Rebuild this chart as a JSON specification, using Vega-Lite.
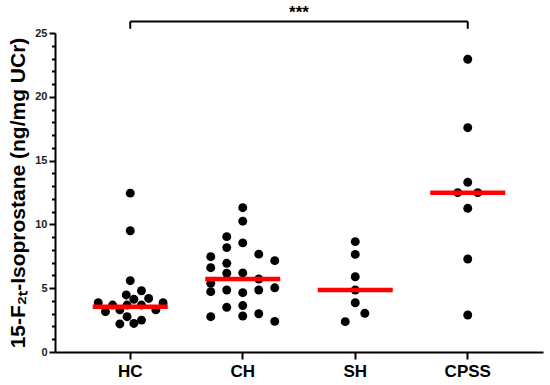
{
  "$schema": "https://vega.github.io/schema/vega-lite/v6.json",
  "width": 488,
  "height": 319,
  "autosize": {"type": "none"},
  "padding": {"left": 55, "top": 33, "right": 7, "bottom": 33},
  "background": "white",
  "config": {"view": {"stroke": null}, "font": "Liberation Sans", "axis": {"ticks": true, "tickOpacity": 1}},
  "datasets": {
    "points": [
      {"group": "HC", "value": 12.45, "off": 0},
      {"group": "HC", "value": 9.5, "off": 0},
      {"group": "HC", "value": 5.59, "off": 0},
      {"group": "HC", "value": 4.8, "off": 1.4},
      {"group": "HC", "value": 4.47, "off": -0.5},
      {"group": "HC", "value": 4.13, "off": 0.45},
      {"group": "HC", "value": 4.2, "off": 2.3},
      {"group": "HC", "value": 3.86, "off": -4},
      {"group": "HC", "value": 3.68, "off": -2.2},
      {"group": "HC", "value": 3.68, "off": -0.4},
      {"group": "HC", "value": 3.68, "off": 1.4},
      {"group": "HC", "value": 3.86, "off": 4.1},
      {"group": "HC", "value": 3.3, "off": 3.2},
      {"group": "HC", "value": 3.16, "off": -3.1},
      {"group": "HC", "value": 3.3, "off": -1.3},
      {"group": "HC", "value": 2.77, "off": -0.4},
      {"group": "HC", "value": 2.5, "off": 1.4},
      {"group": "HC", "value": 2.24, "off": 0.45},
      {"group": "HC", "value": 2.2, "off": -1.3},
      {"group": "CH", "value": 11.31, "off": 0},
      {"group": "CH", "value": 10.25, "off": 0},
      {"group": "CH", "value": 9.04, "off": -2},
      {"group": "CH", "value": 8.55, "off": 0},
      {"group": "CH", "value": 8.18, "off": -2},
      {"group": "CH", "value": 7.67, "off": 2},
      {"group": "CH", "value": 7.47, "off": -4},
      {"group": "CH", "value": 7.16, "off": 4},
      {"group": "CH", "value": 6.95, "off": -2},
      {"group": "CH", "value": 6.61, "off": -4},
      {"group": "CH", "value": 6.17, "off": -2},
      {"group": "CH", "value": 6.2, "off": 0},
      {"group": "CH", "value": 5.72, "off": 2},
      {"group": "CH", "value": 5.38, "off": -4},
      {"group": "CH", "value": 4.73, "off": -4},
      {"group": "CH", "value": 4.86, "off": -2},
      {"group": "CH", "value": 4.65, "off": 0},
      {"group": "CH", "value": 4.86, "off": 2},
      {"group": "CH", "value": 5.03, "off": 4},
      {"group": "CH", "value": 3.5, "off": -2},
      {"group": "CH", "value": 3.64, "off": 0},
      {"group": "CH", "value": 2.77, "off": -4},
      {"group": "CH", "value": 2.82, "off": 0},
      {"group": "CH", "value": 3.0, "off": 2},
      {"group": "CH", "value": 2.4, "off": 4},
      {"group": "SH", "value": 8.65, "off": 0},
      {"group": "SH", "value": 7.65, "off": 0},
      {"group": "SH", "value": 5.9, "off": 0},
      {"group": "SH", "value": 4.86, "off": 0},
      {"group": "SH", "value": 3.86, "off": 0},
      {"group": "SH", "value": 3.03, "off": 1.2},
      {"group": "SH", "value": 2.38, "off": -1.25},
      {"group": "CPSS", "value": 22.94, "off": 0},
      {"group": "CPSS", "value": 17.58, "off": 0},
      {"group": "CPSS", "value": 13.3, "off": 0},
      {"group": "CPSS", "value": 12.49, "off": -1.25},
      {"group": "CPSS", "value": 12.49, "off": 1.25},
      {"group": "CPSS", "value": 11.26, "off": 0},
      {"group": "CPSS", "value": 7.29, "off": 0},
      {"group": "CPSS", "value": 2.9, "off": 0}
    ],
    "medians": [
      {"group": "HC", "value": 3.55},
      {"group": "CH", "value": 5.72},
      {"group": "SH", "value": 4.86},
      {"group": "CPSS", "value": 12.49}
    ],
    "bracketH": [{"group": "HC", "g2": "CPSS", "value": 25.9}],
    "bracketV": [
      {"group": "HC", "value": 25.9, "bottom": 25.33},
      {"group": "CPSS", "value": 25.9, "bottom": 25.33}
    ],
    "sig": [{"group": "CH", "off": 7.03, "value": 26.15, "label": "***"}]
  },
  "encoding": {
    "x": {
      "field": "group",
      "type": "nominal",
      "scale": {"type": "band", "domain": ["HC", "CH", "SH", "CPSS"], "paddingInner": 0, "paddingOuter": 0.169},
      "axis": {
        "title": null,
        "labelAngle": 0,
        "bandPosition": 0.5,
        "tickBand": "center",
        "labelFont": "Liberation Sans",
        "labelFontSize": 17,
        "labelFontWeight": "bold",
        "labelColor": "black",
        "labelPadding": 4,
        "domainColor": "black",
        "domainWidth": 2,
        "ticks": true,
        "tickColor": "black",
        "tickWidth": 2,
        "tickSize": 7,
        "grid": false
      }
    },
    "y": {
      "field": "value",
      "type": "quantitative",
      "scale": {"domain": [0, 25], "nice": false},
      "axis": {
        "title": "15-F₂ₜ-Isoprostane (ng/mg UCr)",
        "titleFont": "Liberation Sans",
        "titleFontSize": 21,
        "titleFontWeight": "bold",
        "titleColor": "black",
        "titlePadding": 6,
        "values": [0, 1, 2, 3, 4, 5, 6, 7, 8, 9, 10, 11, 12, 13, 14, 15, 16, 17, 18, 19, 20, 21, 22, 23, 24, 25],
        "labelExpr": "datum.value % 5 === 0 ? datum.label : ''",
        "labelOverlap": false,
        "labelBound": false,
        "labelFlush": false,
        "labelFont": "Liberation Sans",
        "labelFontSize": 11,
        "labelFontWeight": "bold",
        "labelColor": "#222",
        "labelPadding": 2,
        "domainColor": "black",
        "domainWidth": 2,
        "ticks": true,
        "tickColor": "black",
        "tickWidth": 2,
        "tickSize": {"condition": {"test": "datum.value % 5 === 0", "value": 6}, "value": 3.5},
        "grid": false
      }
    }
  },
  "layer": [
    {
      "data": {"name": "points"},
      "mark": {"type": "circle", "size": 80, "color": "black", "opacity": 1},
      "encoding": {
        "xOffset": {"field": "off", "type": "quantitative", "scale": {"domain": [-7.03, 7.03]}}
      }
    },
    {
      "data": {"name": "medians"},
      "mark": {"type": "tick", "color": "#ff0000", "size": 75, "thickness": 4.5, "opacity": 1},
      "encoding": {}
    },
    {
      "data": {"name": "bracketH"},
      "mark": {"type": "rule", "color": "black", "strokeWidth": 2},
      "encoding": {
        "x2": {"field": "g2"}
      }
    },
    {
      "data": {"name": "bracketV"},
      "mark": {"type": "rule", "color": "black", "strokeWidth": 2},
      "encoding": {
        "y2": {"field": "bottom"}
      }
    },
    {
      "data": {"name": "sig"},
      "mark": {"type": "text", "font": "Liberation Sans", "fontSize": 17, "fontWeight": "bold", "color": "black", "baseline": "alphabetic", "align": "center"},
      "encoding": {
        "xOffset": {"field": "off", "type": "quantitative"},
        "text": {"field": "label"}
      }
    }
  ]
}
